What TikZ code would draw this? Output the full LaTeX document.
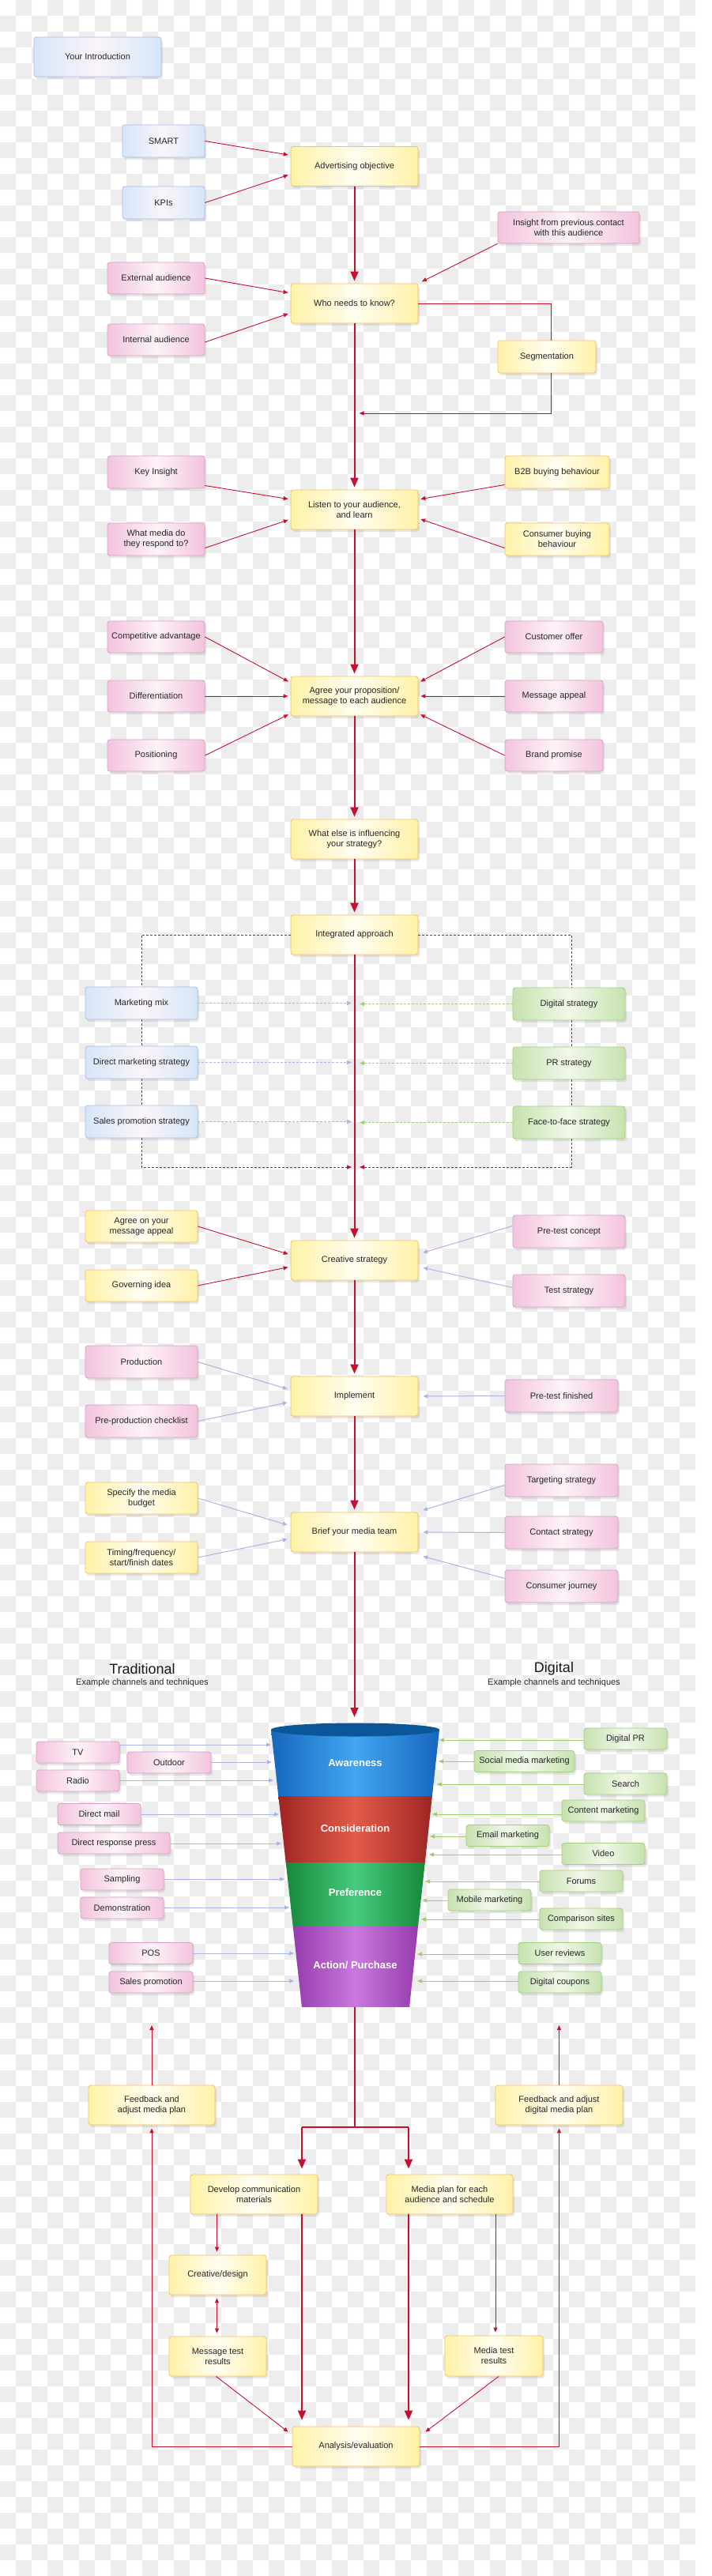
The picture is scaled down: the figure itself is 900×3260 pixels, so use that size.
\documentclass[tikz,border=0pt]{standalone}
\usepackage{fontspec}
\setmainfont{Liberation Sans}
\usetikzlibrary{arrows.meta,shadows,calc}
\definecolor{checkgray}{HTML}{EDEDED}
\definecolor{mainred}{HTML}{C8102E}
\definecolor{arrblue}{HTML}{AAB4E6}
\definecolor{arrgreen}{HTML}{A0CD6E}
\definecolor{bxBlue}{HTML}{D5E6F7}
\definecolor{bxBlueM}{HTML}{FBF5FA}
\definecolor{bxBlueD}{HTML}{A9BCE6}
\definecolor{bxYel}{HTML}{FFF2A8}
\definecolor{bxYelM}{HTML}{FFFDF0}
\definecolor{bxYelD}{HTML}{F4C063}
\definecolor{bxPink}{HTML}{F3C3DD}
\definecolor{bxPinkM}{HTML}{FDF3F8}
\definecolor{bxPinkD}{HTML}{D7A0C8}
\definecolor{bxGreen}{HTML}{C6E2AE}
\definecolor{bxGreenM}{HTML}{F1F8EA}
\definecolor{bxGreenD}{HTML}{A3CF80}
\definecolor{awL}{HTML}{1667BD}
\definecolor{awM}{HTML}{43A6F1}
\definecolor{awTop}{HTML}{0B5699}
\definecolor{coL}{HTML}{9E2523}
\definecolor{coM}{HTML}{E35C4A}
\definecolor{prL}{HTML}{17883A}
\definecolor{prM}{HTML}{46CB7D}
\definecolor{acL}{HTML}{963CAE}
\definecolor{acM}{HTML}{CA78DE}
\tikzset{
  bx/.style={rounded corners=3pt, line width=0.8pt, align=center, inner sep=1pt,
    text=black!85, font=\fontsize{11}{13}\selectfont,
    drop shadow={shadow xshift=2pt,shadow yshift=-3pt,opacity=0.18}},
  bluebox/.style={bx, draw=bxBlueD, left color=bxBlue, right color=bxBlue, middle color=bxBlueM},
  ybox/.style={bx, draw=bxYelD, left color=bxYel, right color=bxYel, middle color=bxYelM},
  pbox/.style={bx, draw=bxPinkD, left color=bxPink, right color=bxPink, middle color=bxPinkM},
  gbox/.style={bx, draw=bxGreenD, left color=bxGreen, right color=bxGreen, middle color=bxGreenM},
  big/.style={minimum width=161pt, minimum height=50pt},
  mainarr/.style={draw=mainred, line width=2pt, -{Triangle[length=12pt,width=10pt]}, shorten >=3pt},
  mainline/.style={draw=mainred, line width=2pt},
  redarr/.style={draw=mainred, line width=0.9pt, -{Triangle[length=6pt,width=5pt]}, shorten >=3pt},
  redline/.style={draw=mainred, line width=0.9pt},
  bluearr/.style={draw=arrblue, line width=1pt, -{Triangle[length=6pt,width=5pt]}, shorten >=4pt},
  greenarr/.style={draw=arrgreen, line width=1pt, -{Triangle[length=6pt,width=5pt]}},
  dashred/.style={draw=mainred, line width=0.8pt, dash pattern=on 3pt off 2pt},
  dashblue/.style={draw=arrblue, line width=1pt, dash pattern=on 3pt off 2pt, -{Triangle[length=6pt,width=5pt]}},
  dashgreen/.style={draw=arrgreen, line width=1pt, dash pattern=on 3pt off 2pt, -{Triangle[length=6pt,width=5pt]}},
  funlab/.style={text=white, font=\fontsize{13}{15}\selectfont\bfseries},
  head/.style={text=black!90, font=\fontsize{18}{20}\selectfont},
  subhead/.style={text=black!85, font=\fontsize{11}{13}\selectfont}
}
\begin{document}
\begin{tikzpicture}[x=1pt,y=-1pt]
\useasboundingbox (0,0) rectangle (900,3260);
\fill[white] (0,0) rectangle (900,3260);
% checkerboard background
\foreach \j in {0,...,162}{
  \pgfmathsetmacro{\off}{ifthenelse(mod(\j,2)==0,20,0)}
  \fill[checkgray] \foreach \i in {0,40,...,860}{ (\i+\off,\j*20) rectangle ++(20,20) };
}

% ---------- top section ----------
\node[bluebox, big] (intro) at (123.5,72) {Your Introduction};
\node[bluebox, minimum width=104pt, minimum height=41pt] (smart) at (207,178.5) {SMART};
\node[bluebox, minimum width=104pt, minimum height=41pt] (kpis) at (207,256.5) {KPIs};
\node[ybox, big] (adv) at (448.5,210.5) {Advertising objective};
\node[pbox, minimum width=179pt, minimum height=40pt] (insight) at (719.5,288) {Insight from previous contact\\with this audience};
\node[ybox, big] (who) at (448.5,384) {Who needs to know?};
\node[pbox, minimum width=123pt, minimum height=40pt] (ext) at (197.5,352) {External audience};
\node[pbox, minimum width=123pt, minimum height=40pt] (int) at (197.5,430) {Internal audience};
\node[ybox, minimum width=124pt, minimum height=41pt] (seg) at (692,451.5) {Segmentation};

\node[ybox, big] (listen) at (448.5,645) {Listen to your audience,\\and learn};
\node[pbox, minimum width=123pt, minimum height=41pt] (keyins) at (197.5,597.5) {Key Insight};
\node[pbox, minimum width=123pt, minimum height=41pt] (media) at (197.5,682.5) {What media do\\they respond to?};
\node[ybox, minimum width=132pt, minimum height=41pt] (b2b) at (705,597.5) {B2B buying behaviour};
\node[ybox, minimum width=132pt, minimum height=41pt] (consb) at (705,682.5) {Consumer buying\\behaviour};

\node[ybox, big] (agree) at (448.5,881) {Agree your proposition/\\message  to each audience};
\node[pbox, minimum width=123pt, minimum height=40pt] (comp) at (197.5,806) {Competitive advantage};
\node[pbox, minimum width=123pt, minimum height=40pt] (diff) at (197.5,881) {Differentiation};
\node[pbox, minimum width=123pt, minimum height=40pt] (pos) at (197.5,956) {Positioning};
\node[pbox, minimum width=124pt, minimum height=40pt] (offer) at (701,806) {Customer offer};
\node[pbox, minimum width=124pt, minimum height=40pt] (appeal) at (701,881) {Message appeal};
\node[pbox, minimum width=124pt, minimum height=40pt] (brand) at (701,956) {Brand promise};

\node[ybox, big] (whatelse) at (448.5,1062) {What else is influencing\\your strategy?};
\node[ybox, big] (integ) at (448.5,1183) {Integrated approach};
\node[bluebox, minimum width=142pt, minimum height=41pt] (mix) at (179,1269.5) {Marketing mix};
\node[bluebox, minimum width=142pt, minimum height=41pt] (dm) at (179,1344.5) {Direct marketing strategy};
\node[bluebox, minimum width=142pt, minimum height=41pt] (sp) at (179,1419.5) {Sales promotion strategy};
\node[gbox, minimum width=142pt, minimum height=41pt] (dig) at (720,1270.5) {Digital strategy};
\node[gbox, minimum width=142pt, minimum height=41pt] (pr) at (720,1345.5) {PR strategy};
\node[gbox, minimum width=142pt, minimum height=41pt] (f2f) at (720,1420.5) {Face-to-face strategy};
\coordinate (dl) at (445,1477);
\coordinate (dr) at (455,1477);

\node[ybox, big] (creative) at (448.5,1595) {Creative strategy};
\node[ybox, minimum width=142pt, minimum height=40pt] (agreeon) at (179,1552) {Agree on your\\message appeal};
\node[ybox, minimum width=142pt, minimum height=40pt] (gov) at (179,1627) {Governing idea};
\node[pbox, minimum width=142pt, minimum height=41pt] (pretc) at (720,1558.5) {Pre-test concept};
\node[pbox, minimum width=142pt, minimum height=41pt] (teststr) at (720,1633.5) {Test strategy};

\node[ybox, big] (impl) at (448.5,1767) {Implement};
\node[pbox, minimum width=142pt, minimum height=41pt] (prod) at (179,1723.5) {Production};
\node[pbox, minimum width=142pt, minimum height=41pt] (preprod) at (179,1798.5) {Pre-production checklist};
\node[pbox, minimum width=143pt, minimum height=41pt] (ptf) at (710.5,1766.5) {Pre-test finished};

\node[ybox, big] (brief) at (448.5,1939) {Brief your media team};
\node[ybox, minimum width=142pt, minimum height=40pt] (budget) at (179,1896) {Specify the media\\budget};
\node[ybox, minimum width=142pt, minimum height=40pt] (timing) at (179,1971) {Timing/frequency/\\start/finish dates};
\node[pbox, minimum width=143pt, minimum height=41pt] (target) at (710.5,1873.5) {Targeting strategy};
\node[pbox, minimum width=143pt, minimum height=41pt] (contact) at (710.5,1939.5) {Contact strategy};
\node[pbox, minimum width=143pt, minimum height=41pt] (journey) at (710.5,2007.5) {Consumer journey};

\node[head] (trad) at (180,2112) {Traditional};
\node[subhead] (tradsub) at (180,2130) {Example channels and techniques};
\node[head] (digh) at (701,2112) {Digital};
\node[subhead] (digsub) at (701,2130) {Example channels and techniques};

% ---------- main spine ----------
\draw[mainarr] (adv.south) -- (who.north);
\draw[mainarr] (who.south) -- (listen.north);
\draw[mainarr] (listen.south) -- (agree.north);
\draw[mainarr] (agree.south) -- (whatelse.north);
\draw[mainarr] (whatelse.south) -- (integ.north);
\draw[mainarr] (integ.south) -- (creative.north);
\draw[mainarr] (creative.south) -- (impl.north);
\draw[mainarr] (impl.south) -- (brief.north);

% feeders
\draw[redarr] (smart.east) -- ([yshift=14pt]adv.west);
\draw[redarr] (kpis.east) -- ([yshift=-10pt]adv.west);
\draw[redarr, shorten >=5pt] (insight.south west) -- (who.north east);
\draw[redarr] (ext.east) -- ([yshift=13pt]who.west);
\draw[redarr] ([yshift=-3pt]int.east) -- ([yshift=-12pt]who.west);
\coordinate (segin) at (448.5,523);
\draw[redline] (who.east) -| ([xshift=5pt]seg.north);
\draw[redarr, shorten >=6pt] ([xshift=5pt]seg.south) |- (segin);

\draw[redarr] ([yshift=-17pt]keyins.east) -- ([yshift=13pt]listen.west);
\draw[redarr] ([yshift=-11pt]media.east) -- ([yshift=-12pt]listen.west);
\draw[redarr] ([yshift=-16pt]b2b.west) -- ([yshift=13pt]listen.east);
\draw[redarr] ([yshift=-11pt]consb.west) -- ([yshift=-11pt]listen.east);

\draw[redarr] (comp.east) -- ([yshift=17pt]agree.west);
\draw[redarr] (diff.east) -- (agree.west);
\draw[redarr] (pos.east) -- ([yshift=-22pt]agree.west);
\draw[redarr] (offer.west) -- ([yshift=17pt]agree.east);
\draw[redarr] (appeal.west) -- (agree.east);
\draw[redarr] (brand.west) -- ([yshift=-22pt]agree.east);

% integrated approach
\draw[dashred] (integ.west) -| (mix.north);
\draw[dashred] (mix.south) -- (dm.north);
\draw[dashred] (dm.south) -- (sp.north);
\draw[dashred, -{Triangle[length=6pt,width=5pt]}] (sp.south) |- (dl);
\draw[dashred] (integ.east) -| ([xshift=3pt]dig.north);
\draw[dashred] ([xshift=3pt]dig.south) -- ([xshift=3pt]pr.north);
\draw[dashred] ([xshift=3pt]pr.south) -- ([xshift=3pt]f2f.north);
\draw[dashred, -{Triangle[length=6pt,width=5pt]}] ([xshift=3pt]f2f.south) |- (dr);
\draw[dashblue] (mix.east) -- (mix.east -| dl);
\draw[dashblue] (dm.east) -- (dm.east -| dl);
\draw[dashblue] (sp.east) -- (sp.east -| dl);
\draw[dashgreen] (dig.west) -- (dig.west -| dr);
\draw[dashgreen] (pr.west) -- (pr.west -| dr);
\draw[dashgreen] (f2f.west) -- (f2f.west -| dr);

\draw[redarr] (agreeon.east) -- ([yshift=7pt]creative.west);
\draw[redarr] (gov.east) -- ([yshift=-8pt]creative.west);
\draw[bluearr, shorten >=6pt] ([yshift=7pt]pretc.west) -- ([yshift=8pt]creative.east);
\draw[bluearr, shorten >=6pt] ([yshift=4pt]teststr.west) -- ([yshift=-8pt]creative.east);

\draw[bluearr] (prod.east) -- ([yshift=8pt]impl.west);
\draw[bluearr] (preprod.east) -- ([yshift=-7pt]impl.west);
\draw[bluearr, shorten >=6pt] (ptf.west) -- (impl.east);

\draw[bluearr] (budget.east) -- ([yshift=8pt]brief.west);
\draw[bluearr] (timing.east) -- ([yshift=-8pt]brief.west);
\draw[bluearr, shorten >=6pt] ([yshift=-6pt]target.west) -- ([yshift=26pt]brief.east);
\draw[bluearr, shorten >=6pt] (contact.west) -- (brief.east);
\draw[bluearr, shorten >=6pt] ([yshift=10pt]journey.west) -- ([yshift=-29pt]brief.east);

% ---------- funnel ----------
\shade[left color=awL, right color=awL, middle color=awM] (343,2189) -- (556,2189) -- (546.9,2273) -- (352.3,2273) -- cycle;
\shade[left color=coL, right color=coL, middle color=coM] (352.3,2273) -- (546.9,2273) -- (537.8,2357) -- (361.7,2357) -- cycle;
\shade[left color=prL, right color=prL, middle color=prM] (361.7,2357) -- (537.8,2357) -- (529,2438) -- (370.7,2438) -- cycle;
\shade[left color=acL, right color=acL, middle color=acM] (370.7,2438) -- (529,2438) -- (518,2540) -- (382,2540) -- cycle;
\fill[awTop] (449.5,2189) ellipse [x radius=106.5, y radius=8.5];
\node[funlab] (lAw) at (449.5,2231) {Awareness};
\node[funlab] (lCo) at (449.5,2314) {Consideration};
\node[funlab] (lPr) at (449.5,2395) {Preference};
\node[funlab] (lAc) at (449.5,2487) {Action/ Purchase};
\coordinate (ftop) at (448.5,2173);
\draw[mainarr, shorten >=0pt] (brief.south) -- (ftop);

% traditional channels
\node[pbox, minimum width=105pt, minimum height=27pt] (tv) at (98.5,2217.5) {TV};
\node[pbox, minimum width=106pt, minimum height=27pt] (outdoor) at (214,2230.5) {Outdoor};
\node[pbox, minimum width=105pt, minimum height=27pt] (radio) at (98.5,2253.5) {Radio};
\node[pbox, minimum width=105pt, minimum height=27pt] (dmail) at (125.5,2296) {Direct mail};
\node[pbox, minimum width=142pt, minimum height=27pt] (drp) at (144,2332.5) {Direct response press};
\node[pbox, minimum width=105pt, minimum height=27pt] (sampling) at (154.5,2378.5) {Sampling};
\node[pbox, minimum width=105pt, minimum height=27pt] (demo) at (154.5,2414.5) {Demonstration};
\node[pbox, minimum width=106pt, minimum height=27pt] (pos2) at (191,2472) {POS};
\node[pbox, minimum width=106pt, minimum height=27pt] (salesp) at (191,2508.5) {Sales promotion};
\coordinate (fTV) at (343,2208);
\coordinate (fOut) at (344,2230);
\coordinate (fRad) at (346,2253);
\coordinate (fDm) at (353,2296);
\coordinate (fDrp) at (356,2333);
\coordinate (fSam) at (360,2378);
\coordinate (fDem) at (366,2414);
\coordinate (fPos) at (372,2472);
\coordinate (fSal) at (372,2507);
\draw[bluearr, shorten >=0pt] (tv.east |- fTV) -- (fTV);
\draw[bluearr, shorten >=0pt] (outdoor.east |- fOut) -- (fOut);
\draw[bluearr, shorten >=0pt] (radio.east |- fRad) -- (fRad);
\draw[bluearr, shorten >=0pt] (dmail.east |- fDm) -- (fDm);
\draw[bluearr, shorten >=0pt] (drp.east |- fDrp) -- (fDrp);
\draw[bluearr, shorten >=0pt] (sampling.east |- fSam) -- (fSam);
\draw[bluearr, shorten >=0pt] (demo.east |- fDem) -- (fDem);
\draw[bluearr, shorten >=0pt] (pos2.east |- fPos) -- (fPos);
\draw[bluearr, shorten >=0pt] (salesp.east |- fSal) -- (fSal);

% digital channels
\node[gbox, minimum width=105pt, minimum height=27pt] (dpr) at (791.5,2200.5) {Digital PR};
\node[gbox, minimum width=127pt, minimum height=27pt] (social) at (663.5,2229) {Social media marketing};
\node[gbox, minimum width=105pt, minimum height=27pt] (search) at (791.5,2257.5) {Search};
\node[gbox, minimum width=105pt, minimum height=27pt] (content) at (763.5,2291.5) {Content marketing};
\node[gbox, minimum width=105pt, minimum height=27pt] (email) at (642.5,2323) {Email marketing};
\node[gbox, minimum width=105pt, minimum height=27pt] (video) at (763.5,2346) {Video};
\node[gbox, minimum width=105pt, minimum height=27pt] (forums) at (735.5,2380.5) {Forums};
\node[gbox, minimum width=105pt, minimum height=27pt] (mobile) at (619.5,2404.5) {Mobile marketing};
\node[gbox, minimum width=105pt, minimum height=27pt] (compar) at (735.5,2428.5) {Comparison sites};
\node[gbox, minimum width=105pt, minimum height=27pt] (reviews) at (708.5,2472) {User reviews};
\node[gbox, minimum width=105pt, minimum height=27pt] (coupons) at (708.5,2508.5) {Digital coupons};
\coordinate (gDpr) at (556,2202);
\coordinate (gSoc) at (555,2229);
\coordinate (gSea) at (553,2258);
\coordinate (gCon) at (547,2296);
\coordinate (gEma) at (544,2324);
\coordinate (gVid) at (543,2347);
\coordinate (gFor) at (538,2381);
\coordinate (gMob) at (534,2405);
\coordinate (gCom) at (533,2429);
\coordinate (gRev) at (528,2473);
\coordinate (gCou) at (528,2507);
\draw[greenarr] (dpr.west |- gDpr) -- (gDpr);
\draw[greenarr] (social.west |- gSoc) -- (gSoc);
\draw[greenarr] (search.west |- gSea) -- (gSea);
\draw[greenarr] (content.west |- gCon) -- (gCon);
\draw[greenarr] (email.west |- gEma) -- (gEma);
\draw[greenarr] (video.west |- gVid) -- (gVid);
\draw[greenarr] (forums.west |- gFor) -- (gFor);
\draw[greenarr] (mobile.west |- gMob) -- (gMob);
\draw[greenarr] (compar.west |- gCom) -- (gCom);
\draw[greenarr] (reviews.west |- gRev) -- (gRev);
\draw[greenarr] (coupons.west |- gCou) -- (gCou);

% ---------- bottom section ----------
\node[ybox, minimum width=160pt, minimum height=50pt] (fbL) at (192,2664) {Feedback and\\adjust media plan};
\node[ybox, big] (fbR) at (707.5,2664) {Feedback and adjust\\digital media plan};
\node[ybox, big] (develop) at (321.5,2777) {Develop communication\\materials};
\node[ybox, minimum width=160pt, minimum height=50pt] (mplan) at (569,2777) {Media plan for each\\audience and schedule};
\node[ybox, minimum width=123pt, minimum height=50pt] (cdesign) at (275.5,2879) {Creative/design};
\node[ybox, minimum width=123pt, minimum height=50pt] (msgtest) at (275.5,2982) {Message test\\results};
\node[ybox, minimum width=124pt, minimum height=51pt] (mtest) at (625,2981.5) {Media test\\results};
\node[ybox, big] (analysis) at (450.5,3096) {Analysis/evaluation};

\coordinate (fbot) at (448.5,2540);
\coordinate (split) at (448.5,2692);
\coordinate (sL) at (382,2692);
\coordinate (sR) at (517,2692);
\coordinate (upL) at (192,2563);
\coordinate (upR) at (707.5,2563);
\draw[mainline] (fbot) -- (split);
\draw[mainline] (sL) -- (sR);
\draw[mainarr, shorten >=7pt] (sL) -- (sL |- develop.north);
\draw[mainarr, shorten >=7pt] (sR) -- (sR |- mplan.north);
\draw[mainarr, shorten >=8pt] (sL |- develop.south) -- (sL |- analysis.north);
\draw[mainarr, shorten >=8pt] (sR |- mplan.south) -- (sR |- analysis.north);

\draw[redarr, shorten >=4pt] ([xshift=-1pt]cdesign.north |- develop.south) -- ([xshift=-1pt]cdesign.north);
\draw[redline, {Triangle[length=6pt,width=5pt]}-{Triangle[length=6pt,width=5pt]}, shorten <=4pt, shorten >=4pt] ([xshift=-1pt]cdesign.south) -- ([xshift=-1pt]msgtest.north);
\draw[redarr, shorten >=4pt] ([xshift=2pt]mtest.north |- mplan.south) -- ([xshift=2pt]mtest.north);
\draw[redarr, shorten >=0pt] ([xshift=-2pt]msgtest.south) -- ([xshift=-5pt,yshift=-7pt]analysis.north west);
\draw[redarr, shorten >=0pt] ([xshift=6pt]mtest.south) -- ([xshift=7pt,yshift=-7pt]analysis.north east);

\draw[redarr, line width=1pt, shorten >=4pt] (analysis.west) -| (fbL.south);
\draw[redarr, line width=1pt, shorten >=4pt] (analysis.east) -| (fbR.south);
\draw[redarr, shorten >=0pt] (fbL.north) -- (upL);
\draw[redarr, shorten >=0pt] (fbR.north) -- (upR);
\end{tikzpicture}
\end{document}
